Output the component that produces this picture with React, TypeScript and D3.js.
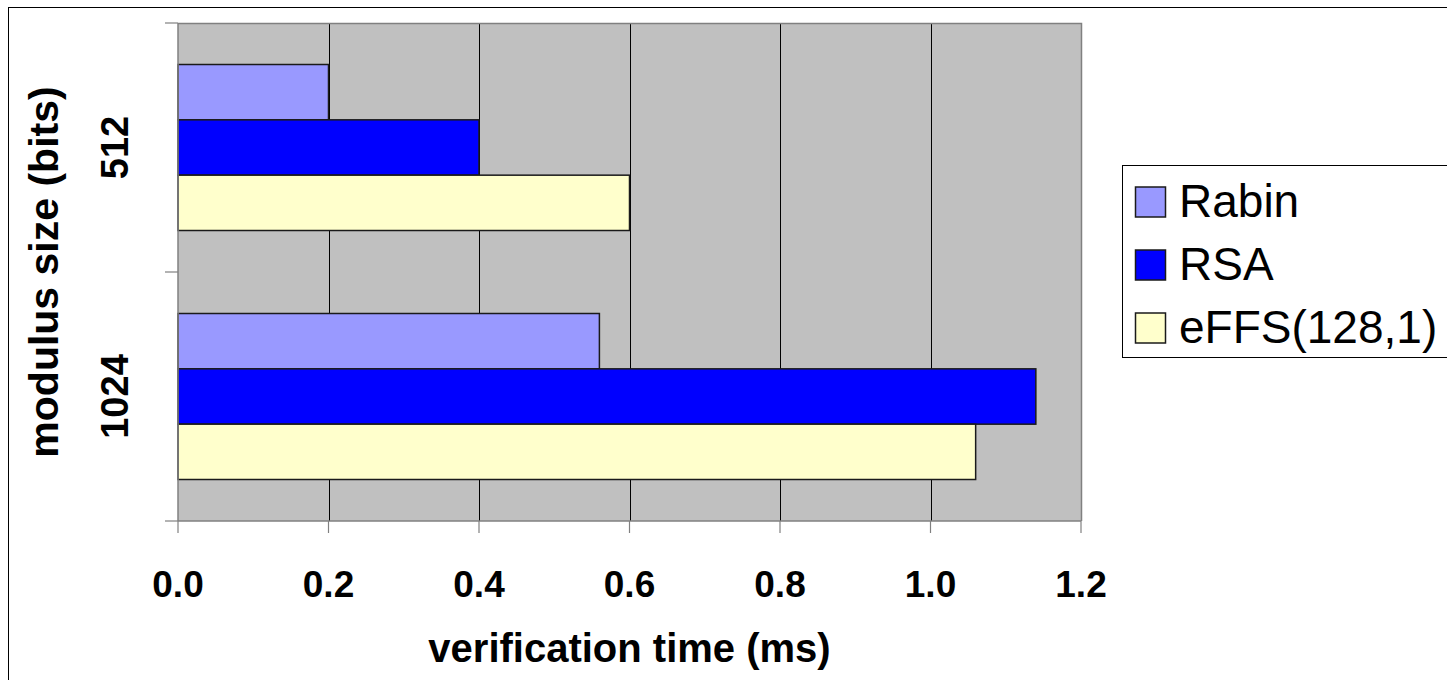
import React, { useEffect, useRef } from 'react';
import * as d3 from 'd3';

// modulus sizes (bits) on the category axis
const categories = ['512', '1024'];
const seriesNames = ['Rabin', 'RSA', 'eFFS(128,1)'];
const seriesColors = ['#9999FF', '#0000FF', '#FFFFCC'];

// verification time (ms), one value per category
const rabin = [0.2, 0.56];
const rsa = [0.4, 1.14];
const effs = [0.6, 1.06];

const xTicks = [0, 0.2, 0.4, 0.6, 0.8, 1.0, 1.2];

const App = () => {
    const svgRef = useRef<SVGSVGElement>(null);

    useEffect(() => {
        const svg = d3.select(svgRef.current);
        svg.selectAll('*').remove();

        const width = 1447;
        const height = 680;
        const font = '"Liberation Sans", Arial, sans-serif';
        const plot = { left: 178, top: 23, right: 1081, bottom: 521 };

        const values = [rabin, rsa, effs];
        const rows = categories.map((c, i) => ({
            category: c,
            bars: seriesNames.map((s, j) => ({ name: s, color: seriesColors[j], value: values[j][i] })),
        }));

        // outer chart border (runs off the right and bottom of the picture)
        svg.append('rect')
            .attr('x', 8.5).attr('y', 7.5)
            .attr('width', width + 100).attr('height', height + 100)
            .attr('fill', '#fff')
            .attr('stroke', '#000');

        const x = d3.scaleLinear().domain([0, 1.2]).range([plot.left, plot.right]);
        const y = d3.scaleBand().domain(categories).range([plot.top, plot.bottom]).padding(0);
        // Excel gap width 150%: half a gap on each side of the bar group
        const ySub = d3.scaleBand().domain(seriesNames).range([0, y.bandwidth()])
            .paddingInner(0).paddingOuter(0.75);

        svg.append('rect')
            .attr('x', plot.left).attr('y', plot.top)
            .attr('width', plot.right - plot.left).attr('height', plot.bottom - plot.top)
            .attr('fill', '#C0C0C0');

        // vertical gridlines
        svg.selectAll('line.grid')
            .data(xTicks.slice(1, -1))
            .enter()
            .append('line')
            .attr('x1', (d) => Math.round(x(d)) + 0.5).attr('x2', (d) => Math.round(x(d)) + 0.5)
            .attr('y1', plot.top).attr('y2', plot.bottom)
            .attr('stroke', '#000').attr('stroke-width', 1);

        // plot frame top / right
        svg.append('path')
            .attr('d', `M${plot.left},${plot.top + 0.5}H${plot.right + 0.5}V${plot.bottom}`)
            .attr('fill', 'none').attr('stroke', '#808080').attr('stroke-width', 1.5);

        const groups = svg.selectAll('g.cat')
            .data(rows)
            .enter()
            .append('g')
            .attr('transform', (d) => `translate(0,${y(d.category)})`);

        groups.selectAll('rect')
            .data((d) => d.bars)
            .enter()
            .append('rect')
            .attr('x', x(0))
            .attr('y', (d) => ySub(d.name))
            .attr('width', (d) => x(d.value) - x(0))
            .attr('height', ySub.bandwidth())
            .attr('fill', (d) => d.color)
            .attr('stroke', '#1a1a1a')
            .attr('stroke-width', 1.5);

        // axes
        const axisColor = '#808080';
        svg.append('line')
            .attr('x1', plot.left).attr('x2', plot.right)
            .attr('y1', plot.bottom).attr('y2', plot.bottom)
            .attr('stroke', axisColor).attr('stroke-width', 1.5);
        svg.append('line')
            .attr('x1', plot.left).attr('x2', plot.left)
            .attr('y1', plot.top).attr('y2', plot.bottom)
            .attr('stroke', axisColor).attr('stroke-width', 1.5);

        svg.selectAll('line.xtick')
            .data(xTicks)
            .enter()
            .append('line')
            .attr('x1', (d) => x(d)).attr('x2', (d) => x(d))
            .attr('y1', plot.bottom).attr('y2', plot.bottom + 12)
            .attr('stroke', axisColor).attr('stroke-width', 1.2);

        const yTickPos = [plot.top, ...categories.map((c) => (y(c) as number) + y.bandwidth())];
        svg.selectAll('line.ytick')
            .data(yTickPos)
            .enter()
            .append('line')
            .attr('x1', plot.left - 13).attr('x2', plot.left)
            .attr('y1', (d) => d).attr('y2', (d) => d)
            .attr('stroke', axisColor).attr('stroke-width', 1.2);

        svg.selectAll('text.xlab')
            .data(xTicks)
            .enter()
            .append('text')
            .attr('x', (d) => x(d))
            .attr('y', 597)
            .attr('text-anchor', 'middle')
            .style('font-family', font)
            .style('font-weight', 'bold')
            .style('font-size', '37px')
            .text((d) => d3.format('.1f')(d));

        svg.selectAll('text.ylab')
            .data(categories)
            .enter()
            .append('text')
            .attr('transform', (d) => `translate(128,${(y(d) as number) + y.bandwidth() / 2}) rotate(-90)`)
            .attr('text-anchor', 'middle')
            .style('font-family', font)
            .style('font-weight', 'bold')
            .style('font-size', '38px')
            .text((d) => d);

        svg.append('text')
            .attr('x', (plot.left + plot.right) / 2)
            .attr('y', 662)
            .attr('text-anchor', 'middle')
            .style('font-family', font)
            .style('font-weight', 'bold')
            .style('font-size', '40px')
            .text('verification time (ms)');

        svg.append('text')
            .attr('transform', `translate(58,${(plot.top + plot.bottom) / 2}) rotate(-90)`)
            .attr('text-anchor', 'middle')
            .style('font-family', font)
            .style('font-weight', 'bold')
            .style('font-size', '41px')
            .text('modulus size (bits)');

        // legend
        const legend = svg.append('g');
        legend.append('rect')
            .attr('x', 1122.5).attr('y', 165.5)
            .attr('width', 400).attr('height', 192)
            .attr('fill', '#fff').attr('stroke', '#000');

        const items = legend.selectAll('g.item')
            .data(seriesNames)
            .enter()
            .append('g')
            .attr('transform', (d, i) => `translate(0,${217 + i * 63})`);
        items.append('rect')
            .attr('x', 1135.5).attr('y', -30)
            .attr('width', 30).attr('height', 30)
            .attr('fill', (d, i) => seriesColors[i])
            .attr('stroke', '#1a1a1a').attr('stroke-width', 1.5);
        items.append('text')
            .attr('x', 1179)
            .attr('y', 0)
            .style('font-family', font)
            .style('font-size', '46px')
            .text((d) => d);
    }, []);

    return (
        <svg
            ref={svgRef}
            width={1447}
            height={680}
            style={{ position: 'absolute', left: 0, top: 0, overflow: 'hidden' }}
        />
    );
};

export default App;
